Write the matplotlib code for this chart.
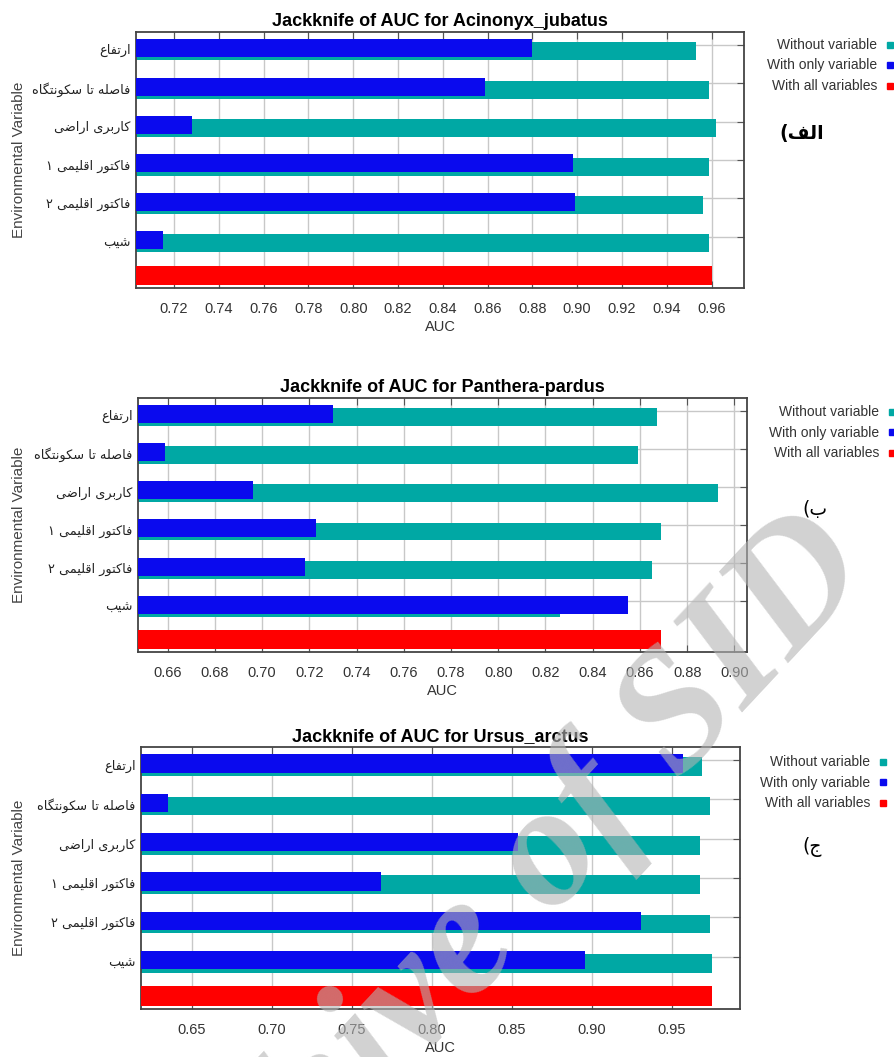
import numpy as np
import matplotlib
matplotlib.use('Agg')
import matplotlib.pyplot as plt
from matplotlib.patches import Rectangle

W, H = 895, 1057

variables = ['ارتفاع', 'فاصله تا سکونتگاه', 'کاربری اراضی',
             'فاکتور اقلیمی ۱', 'فاکتور اقلیمی ۲', 'شیب']
species = ['Acinonyx_jubatus', 'Panthera-pardus', 'Ursus_arctus']
panel_tags = ['الف)', 'ب)', 'ج)']
legend_labels = ['Without variable', 'With only variable', 'With all variables']

without_acinonyx = [0.953, 0.959, 0.962, 0.959, 0.956, 0.959]
only_acinonyx = [0.880, 0.859, 0.728, 0.898, 0.899, 0.715]
all_acinonyx = 0.960

without_panthera = [0.867, 0.859, 0.893, 0.869, 0.865, 0.826]
only_panthera = [0.730, 0.659, 0.696, 0.723, 0.718, 0.855]
all_panthera = 0.869

without_ursus = [0.969, 0.974, 0.968, 0.968, 0.974, 0.975]
only_ursus = [0.957, 0.635, 0.854, 0.768, 0.931, 0.896]
all_ursus = 0.975

xticks_acinonyx = [0.72, 0.74, 0.76, 0.78, 0.80, 0.82, 0.84, 0.86, 0.88, 0.90, 0.92, 0.94, 0.96]
xticks_panthera = [0.66, 0.68, 0.70, 0.72, 0.74, 0.76, 0.78, 0.80, 0.82, 0.84, 0.86, 0.88, 0.90]
xticks_ursus = [0.65, 0.70, 0.75, 0.80, 0.85, 0.90, 0.95]

TEAL = '#00a8a4'
BLUE = '#0a0aee'
RED = '#ff0000'

# Arabic presentation forms: (isolated, final, initial, medial)
FORMS = {
    'ا': ('\uFE8D', '\uFE8E', None, None),
    'ب': ('\uFE8F', '\uFE90', '\uFE91', '\uFE92'),
    'ت': ('\uFE95', '\uFE96', '\uFE97', '\uFE98'),
    'ج': ('\uFE9D', '\uFE9E', '\uFE9F', '\uFEA0'),
    'ر': ('\uFEAD', '\uFEAE', None, None),
    'س': ('\uFEB1', '\uFEB2', '\uFEB3', '\uFEB4'),
    'ش': ('\uFEB5', '\uFEB6', '\uFEB7', '\uFEB8'),
    'ص': ('\uFEB9', '\uFEBA', '\uFEBB', '\uFEBC'),
    'ض': ('\uFEBD', '\uFEBE', '\uFEBF', '\uFEC0'),
    'ع': ('\uFEC9', '\uFECA', '\uFECB', '\uFECC'),
    'ف': ('\uFED1', '\uFED2', '\uFED3', '\uFED4'),
    'ق': ('\uFED5', '\uFED6', '\uFED7', '\uFED8'),
    'ل': ('\uFEDD', '\uFEDE', '\uFEDF', '\uFEE0'),
    'م': ('\uFEE1', '\uFEE2', '\uFEE3', '\uFEE4'),
    'ن': ('\uFEE5', '\uFEE6', '\uFEE7', '\uFEE8'),
    'ه': ('\uFEE9', '\uFEEA', '\uFEEB', '\uFEEC'),
    'و': ('\uFEED', '\uFEEE', None, None),
    'ک': ('\uFB8E', '\uFB8F', '\uFB90', '\uFB91'),
    'گ': ('\uFB92', '\uFB93', '\uFB94', '\uFB95'),
    'ی': ('\uFBFC', '\uFBFD', '\uFBFE', '\uFBFF'),
}
MIRROR = {'(': ')', ')': '('}


def shape(text):
    """Join Persian letters and put them in visual (left-to-right) order"""
    out = []
    for i, ch in enumerate(text):
        if ch not in FORMS:
            out.append(MIRROR.get(ch, ch))
            continue
        prev = text[i - 1] if i > 0 else ''
        nxt = text[i + 1] if i + 1 < len(text) else ''
        join_prev = prev in FORMS and FORMS[prev][2] is not None
        join_next = FORMS[ch][2] is not None and nxt in FORMS
        iso, fin, ini, med = FORMS[ch]
        if join_prev and join_next:
            out.append(med)
        elif join_prev:
            out.append(fin)
        elif join_next:
            out.append(ini)
        else:
            out.append(iso)
    return ''.join(reversed(out))


plt.rcParams['font.family'] = ['Liberation Sans', 'DejaVu Sans']

fig = plt.figure(figsize=(W / 100, H / 100), dpi=100)

# axes boxes in pixels: left, right, top, bottom
boxes = [(136, 744, 32, 288), (138, 747, 398, 652), (141, 740, 747, 1009)]
xlims = [(0.703, 0.9745), (0.6475, 0.9053), (0.6183, 0.9927)]
xticks = [xticks_acinonyx, xticks_panthera, xticks_ursus]
data = [(without_acinonyx, only_acinonyx, all_acinonyx),
        (without_panthera, only_panthera, all_panthera),
        (without_ursus, only_ursus, all_ursus)]

rows = np.arange(len(variables))

for k, (l, r, t, b) in enumerate(boxes):
    ax = fig.add_axes([l / W, 1 - b / H, (r - l) / W, (b - t) / H])
    without, only, allv = data[k]
    ax.barh(rows + 0.17, without, height=0.47, color=TEAL, zorder=2)
    ax.barh(rows + 0.09, only, height=0.47, color=BLUE, zorder=3)
    ax.barh([6.0], [allv], height=0.5, color=RED, zorder=3)

    ax.set_xlim(*xlims[k])
    ax.set_ylim(6.33, -0.33)
    ax.set_xticks(xticks[k])
    ax.set_xticklabels(['%.2f' % v for v in xticks[k]])
    ax.set_yticks(rows)
    ax.set_yticklabels([])
    ax.set_yticks(rows + 0.12, minor=True)
    ax.set_yticklabels([shape(v) for v in variables], minor=True,
                       fontsize=9.3, family=['DejaVu Sans'])
    ax.tick_params(axis='y', which='minor', length=0, pad=4, colors='#222222')
    ax.tick_params(which='major', direction='in', top=True, right=True,
                   length=5, color='#555555', labelcolor='#333333', labelsize=10.5)
    ax.tick_params(axis='x', which='major', pad=10)
    ax.set_axisbelow(True)
    ax.grid(True, which='major', color='#c8c8c8', lw=1)
    for sp in ax.spines.values():
        sp.set_color('#444444')
        sp.set_linewidth(1.3)

    ax.set_title('Jackknife of AUC for ' + species[k], fontsize=13,
                 fontweight='bold', pad=4)
    ax.set_xlabel('AUC', fontsize=10.5, color='#333333', labelpad=3)
    ax.set_ylabel('Environmental Variable', fontsize=11, color='#444444')
    ax.yaxis.set_label_coords((26 - l) / (r - l), 0.5)

# overlay for legends, panel tags and watermark (pixel coordinates)
ov = fig.add_axes([0, 0, 1, 1], zorder=10)
ov.set_xlim(0, W)
ov.set_ylim(H, 0)
ov.axis('off')

legend_pos = [(877, 45), (879, 412), (870, 762)]
tag_pos = [(802, 133), (815, 510), (812, 847)]
for k in range(3):
    x, y = legend_pos[k]
    for j, (lab, col) in enumerate(zip(legend_labels, [TEAL, BLUE, RED])):
        yy = y + j * 20.5
        ov.text(x, yy, lab, ha='right', va='center', fontsize=10, color='#333333')
        ov.add_patch(Rectangle((x + 10, yy - 3.5), 6, 6, color=col))
    tx, ty = tag_pos[k]
    ov.text(tx, ty, shape(panel_tags[k]), ha='center', va='center', fontsize=13.5,
            fontweight='bold' if k == 0 else 'normal', family=['DejaVu Sans'])

ov.text(482, 940, 'Archive of SID', ha='center', va='center', rotation=47,
        rotation_mode='anchor', fontsize=124, family=['Liberation Serif'],
        style='italic', fontweight='bold', color='#b4b4b4', alpha=0.6)

fig.savefig('out.png', dpi=100)
